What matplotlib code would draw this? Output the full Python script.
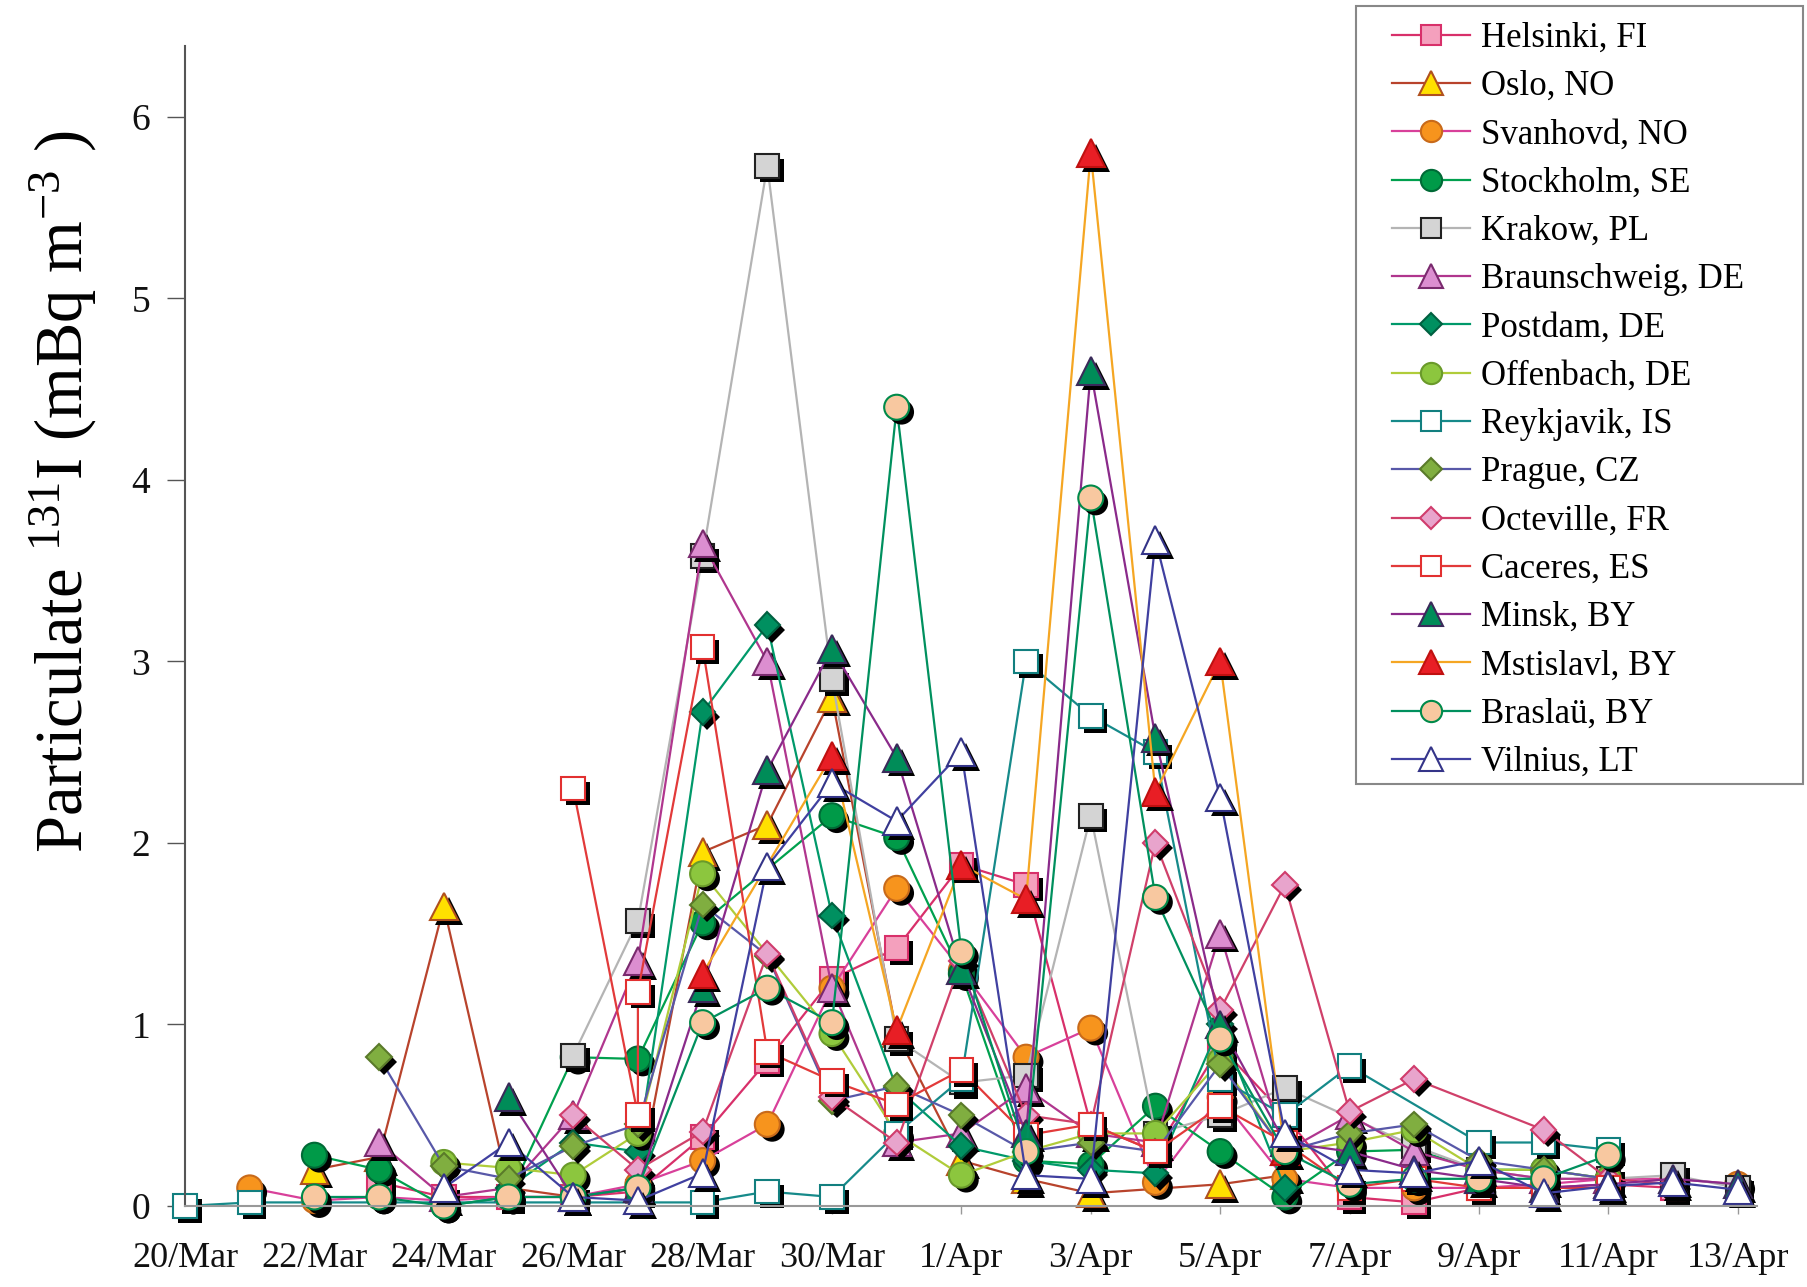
import matplotlib
matplotlib.use("Agg")
import matplotlib.pyplot as plt
import matplotlib.patheffects as pe
from matplotlib.lines import Line2D
from matplotlib.patches import Rectangle

plt.rcParams['font.family'] = ['Liberation Serif', 'DejaVu Serif']
plt.rcParams['mathtext.fontset'] = 'custom'
plt.rcParams['mathtext.rm'] = 'Liberation Serif'
plt.rcParams['mathtext.default'] = 'regular'

# days counted from 20 March
tick_days = [0, 2, 4, 6, 8, 10, 12, 14, 16, 18, 20, 22, 24]
tick_labels = ['20/Mar', '22/Mar', '24/Mar', '26/Mar', '28/Mar', '30/Mar', '1/Apr',
               '3/Apr', '5/Apr', '7/Apr', '9/Apr', '11/Apr', '13/Apr']

helsinki_d = [3, 4, 5, 6, 7, 8, 9, 10, 11, 12, 13, 14, 15, 16, 17, 18, 19, 20, 21, 22, 23]
helsinki_v = [0.13, 0.05, 0.05, 0.05, 0.08, 0.38, 0.8, 1.25, 1.42, 1.88, 1.77, 0.45, 0.3,
              0.88, 0.5, 0.05, 0.02, 0.1, 0.1, 0.12, 0.1]
oslo_d = [2, 3, 4, 5, 6, 7, 8, 9, 10, 11, 12, 13, 14, 16, 17]
oslo_v = [0.2, 0.27, 1.65, 0.1, 0.05, 0.1, 1.95, 2.1, 2.8, 0.95, 0.25, 0.15, 0.07, 0.12, 0.17]
svanhovd_d = [1, 2, 3, 4, 5, 6, 7, 8, 9, 10, 11, 12, 13, 14, 15, 16, 17, 18, 19, 20, 21, 22, 23, 24]
svanhovd_v = [0.1, 0.03, 0.05, 0.03, 0.05, 0.05, 0.12, 0.25, 0.45, 1.2, 1.75, 1.3, 0.82, 0.98,
              0.13, 0.6, 0.15, 0.1, 0.1, 0.1, 0.12, 0.15, 0.15, 0.12]
stockholm_d = [2, 3, 4, 5, 6, 7, 8, 10, 11, 12, 13, 14, 15, 16, 17, 18, 19, 20, 21, 22]
stockholm_v = [0.28, 0.2, 0.0, 0.05, 0.82, 0.81, 1.56, 2.15, 2.03, 1.28, 0.25, 0.23, 0.55,
               0.3, 0.05, 0.3, 0.31, 0.2, 0.2, 0.15]
krakow_d = [6, 7, 8, 9, 10, 11, 12, 13, 14, 15, 16, 17, 19, 20, 21, 22, 23, 24]
krakow_v = [0.83, 1.57, 3.58, 5.73, 2.9, 0.92, 0.68, 0.72, 2.15, 0.4, 0.5, 0.65, 0.33, 0.2,
            0.15, 0.15, 0.17, 0.1]
braunschweig_d = [3, 4, 5, 6, 7, 8, 9, 10, 11, 12, 13, 14, 15, 16, 17, 18, 19, 20, 21, 22]
braunschweig_v = [0.35, 0.05, 0.1, 0.5, 1.35, 3.65, 3.0, 1.2, 0.35, 0.4, 0.65, 0.4, 0.35, 1.5,
                  0.3, 0.5, 0.3, 0.2, 0.15, 0.15]
postdam_d = [5, 6, 7, 8, 9, 10, 11, 12, 13, 14, 15, 16, 17]
postdam_v = [0.1, 0.35, 0.3, 2.72, 3.2, 1.6, 0.65, 0.33, 0.25, 0.2, 0.18, 1.0, 0.1]
offenbach_d = [4, 5, 6, 7, 8, 10, 11, 12, 13, 14, 15, 16, 17, 18, 19, 20, 21, 22]
offenbach_v = [0.24, 0.21, 0.17, 0.4, 1.83, 0.95, 0.4, 0.17, 0.3, 0.4, 0.4, 0.8, 0.3, 0.35,
               0.42, 0.2, 0.2, 0.15]
reykjavik_d = [0, 1, 8, 9, 10, 11, 12, 13, 14, 15, 16, 17, 18, 20, 21, 22]
reykjavik_v = [0.0, 0.02, 0.02, 0.08, 0.05, 0.4, 0.7, 3.0, 2.7, 2.5, 0.7, 0.5, 0.77, 0.35,
               0.35, 0.31]
prague_d = [3, 4, 5, 6, 7, 8, 9, 10, 11, 12, 13, 14, 15, 16, 17, 18, 19, 20, 21, 22]
prague_v = [0.82, 0.22, 0.15, 0.33, 0.45, 1.66, 1.38, 0.58, 0.66, 0.5, 0.3, 0.35, 0.3, 0.78,
            0.3, 0.4, 0.45, 0.25, 0.2, 0.15]
octeville_d = [6, 7, 8, 9, 10, 11, 12, 13, 14, 15, 16, 17, 18, 19, 21, 22, 23]
octeville_v = [0.5, 0.2, 0.41, 1.39, 0.6, 0.35, 1.35, 0.5, 0.45, 2.0, 1.08, 1.77, 0.52, 0.7,
               0.42, 0.15, 0.12]
caceres_d = [6, 7, 7, 8, 9, 10, 11, 12, 13, 14, 15, 16, 17, 18, 19, 20, 21, 22]
caceres_v = [2.3, 0.5, 1.18, 3.08, 0.85, 0.69, 0.56, 0.75, 0.39, 0.45, 0.3, 0.55, 0.35, 0.1,
             0.15, 0.1, 0.1, 0.1]
minsk_d = [5, 6, 7, 8, 9, 10, 11, 12, 13, 14, 15, 16, 17, 18, 19, 20, 21, 22, 23, 24]
minsk_v = [0.6, 0.05, 0.1, 1.2, 2.4, 3.07, 2.47, 1.3, 0.4, 4.6, 2.58, 1.0, 0.35, 0.3, 0.2,
           0.15, 0.1, 0.12, 0.15, 0.12]
mstislavl_d = [8, 10, 11, 12, 13, 14, 15, 16, 17]
mstislavl_v = [1.28, 2.48, 0.97, 1.88, 1.69, 5.8, 2.28, 3.0, 0.3]
braslau_d = [2, 3, 4, 5, 6, 7, 8, 9, 10, 11, 12, 13, 14, 15, 16, 17, 18, 19, 20, 21, 22]
braslau_v = [0.05, 0.05, 0.0, 0.05, 0.05, 0.1, 1.01, 1.2, 1.01, 4.4, 1.4, 0.3, 3.9, 1.7, 0.92,
             0.3, 0.12, 0.15, 0.15, 0.15, 0.28]
vilnius_d = [4, 5, 6, 7, 8, 9, 10, 11, 12, 13, 14, 15, 16, 17, 18, 19, 20, 21, 22, 23, 24]
vilnius_v = [0.1, 0.35, 0.05, 0.03, 0.18, 1.87, 2.33, 2.12, 2.5, 0.17, 0.15, 3.67, 2.25, 0.4,
             0.2, 0.18, 0.25, 0.07, 0.11, 0.13, 0.09]

names = ['Helsinki, FI', 'Oslo, NO', 'Svanhovd, NO', 'Stockholm, SE', 'Krakow, PL',
         'Braunschweig, DE', 'Postdam, DE', 'Offenbach, DE', 'Reykjavik, IS', 'Prague, CZ',
         'Octeville, FR', 'Caceres, ES', 'Minsk, BY', 'Mstislavl, BY', 'Braslaü, BY',
         'Vilnius, LT']
days = [helsinki_d, oslo_d, svanhovd_d, stockholm_d, krakow_d, braunschweig_d, postdam_d,
        offenbach_d, reykjavik_d, prague_d, octeville_d, caceres_d, minsk_d, mstislavl_d,
        braslau_d, vilnius_d]
values = [helsinki_v, oslo_v, svanhovd_v, stockholm_v, krakow_v, braunschweig_v, postdam_v,
          offenbach_v, reykjavik_v, prague_v, octeville_v, caceres_v, minsk_v, mstislavl_v,
          braslau_v, vilnius_v]

# marker, face, edge, line colour
styles = [
    ('s', '#f4a0bd', '#d8306a', '#d8306a'),
    ('^', '#ffe000', '#b0501e', '#b8432c'),
    ('o', '#f7941d', '#c86a1a', '#d8409a'),
    ('o', '#009a48', '#006a36', '#00a04e'),
    ('s', '#d4d4d4', '#222222', '#b4b4b4'),
    ('^', '#dc8ed0', '#7a2a6e', '#b0368e'),
    ('D', '#009060', '#006040', '#00996a'),
    ('o', '#8cc63e', '#6a9a2a', '#b0cc3a'),
    ('s', '#ffffff', '#127f7f', '#168a8a'),
    ('D', '#80ae40', '#5a7a2a', '#5858a8'),
    ('D', '#e8a4cc', '#d03c6c', '#d0406a'),
    ('s', '#ffffff', '#e23030', '#e23a3a'),
    ('^', '#008c58', '#3a2a5a', '#8a2a8a'),
    ('^', '#e81e25', '#c01010', '#f5a623'),
    ('o', '#f8c8a0', '#008a4a', '#00905e'),
    ('^', '#ffffff', '#343488', '#4040a0'),
]
msizes = {'s': 17, '^': 20, 'o': 18, 'D': 13}

fig = plt.figure(figsize=(18.07, 12.87), dpi=100)
ax = fig.add_axes([0.1024, 0.0629, 0.8700, 0.9014])

shadow = [pe.SimplePatchShadow(offset=(3.5, -3.5), shadow_rgbFace='black', alpha=1.0), pe.Normal()]
handles = []
for name, d, v, (mk, fc, ec, lc) in zip(names, days, values, styles):
    ax.plot(d, v, '-', color=lc, lw=1.6, clip_on=False)
    ax.plot(d, v, linestyle='none', marker=mk, ms=msizes[mk], mfc=fc, mec=ec, mew=1.5,
            path_effects=shadow, clip_on=False)
    handles.append(Line2D([], [], color=lc, lw=1.6, marker=mk, ms=msizes[mk] * 0.85,
                          mfc=fc, mec=ec, mew=1.5, label=name))

ax.set_xlim(0, 24.3)
ax.set_ylim(0, 6.39)
ax.set_xticks(tick_days)
ax.set_xticklabels(tick_labels)
ax.set_yticks(range(7))
ax.tick_params(axis='y', direction='out', length=13, width=1, colors='#555555',
               labelcolor='#111111', labelsize=27, pad=12)
ax.tick_params(axis='x', direction='out', length=6, width=1, colors='#999999',
               labelcolor='#111111', labelsize=26, pad=20)
for s in ['top', 'right']:
    ax.spines[s].set_visible(False)
ax.spines['left'].set_color('#555555')
ax.spines['left'].set_linewidth(1.5)
ax.spines['bottom'].set_color('#999999')
ax.spines['bottom'].set_linewidth(1.5)

fig.text(0.035, 0.618, 'Particulate $^{131}$I (mBq m$^{-3}$ )', rotation=90,
         ha='center', va='center', fontsize=48)

# legend entries without their own frame, box drawn separately
leg = fig.legend(handles=handles, loc='upper left', bbox_to_anchor=(0.7705, 0.983),
                 fontsize=25, frameon=False, handlelength=2.25, handletextpad=0.3,
                 labelspacing=0.44, borderpad=0, borderaxespad=0)
fig.patches.append(Rectangle((0.7504, 0.3909), 0.2474, 0.6044, transform=fig.transFigure,
                             fill=False, edgecolor='#888888', linewidth=1.5))

fig.savefig('out.png', dpi=100, facecolor='w')
